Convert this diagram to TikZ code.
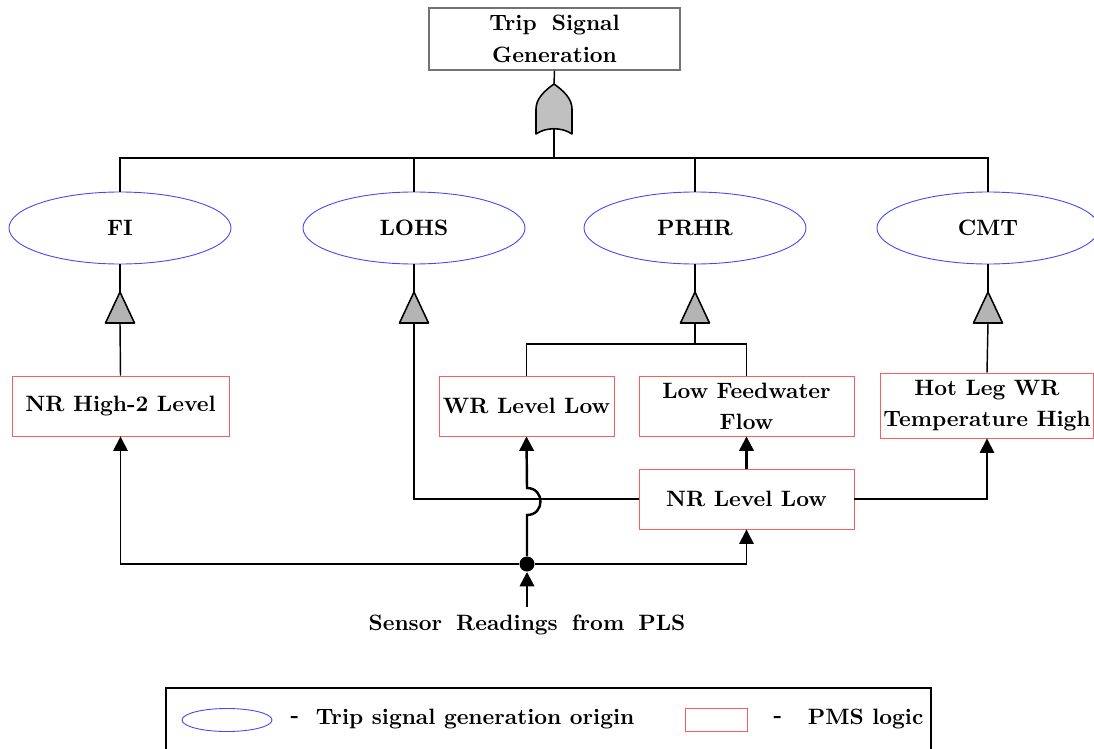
\documentclass[tikz,border=0pt]{standalone}
\usetikzlibrary{arrows.meta,shapes.geometric}
\newcommand{\unitpx}{0.45pt}
\definecolor{pmsred}{RGB}{245,95,95}
\definecolor{origblue}{RGB}{70,70,250}
\definecolor{orfill}{RGB}{192,192,192}
\definecolor{trifill}{RGB}{180,180,180}
\begin{document}
\begin{tikzpicture}[x=\unitpx,y=-\unitpx,
  lbl/.style={font=\bfseries, align=center},
  pms/.style={draw=pmsred, line width=0.4pt, inner sep=0pt, lbl},
  origin/.style={draw=origblue, ellipse, line width=0.4pt, inner sep=0pt,
    minimum width=222*\unitpx, minimum height=72*\unitpx, lbl},
  wire/.style={line width=0.65pt},
  feed/.style={line width=1.1pt},
  tip/.style={-{Triangle[width=6.5pt,length=6.5pt]}},
  gatestyle/.style={line width=0.7pt, line join=round},
  orgate/.pic={
    \draw[gatestyle, fill=orfill] (0,-25) .. controls (-10,-18) and (-18,-10) .. (-18,0)
      -- (-18,25) .. controls (-8,18) and (8,18) .. (18,25) -- (18,0)
      .. controls (18,-10) and (10,-18) .. (0,-25) -- cycle;
    \coordinate (-top) at (0,-25);
    \coordinate (-bot) at (0,20);
  },
  trigate/.pic={
    \draw[gatestyle, fill=trifill] (0,-15.5) -- (14.5,15.5) -- (-14.5,15.5) -- cycle;
    \coordinate (-top) at (0,-15.5);
    \coordinate (-bot) at (0,15.5);
  }]
\useasboundingbox (0,0) rectangle (1094,749);

% top event and OR gate
\node[draw=black!55, line width=0.5pt, inner sep=0pt, lbl,
  minimum width=251*\unitpx, minimum height=62*\unitpx] (top) at (554.5,39)
  {Trip\hspace{3pt} Signal\\[2.5pt]Generation};
\pic (org) at (554,109) {orgate};
\coordinate (bus) at (554,158);

% trip signal origins
\node[origin] (fi)   at (120,228) {FI};
\node[origin] (lohs) at (414,228) {LOHS};
\node[origin] (prhr) at (695,228) {PRHR};
\node[origin] (cmt)  at (988,228) {CMT};

\pic (gfi)   at (120,307.5) {trigate};
\pic (glohs) at (414,307.5) {trigate};
\pic (gprhr) at (695,307.5) {trigate};
\pic (gcmt)  at (988,307.5) {trigate};

% PMS logic blocks
\node[pms, minimum width=217*\unitpx, minimum height=60*\unitpx] (nrh) at (120.5,406) {NR High-2 Level};
\node[pms, minimum width=175*\unitpx, minimum height=60*\unitpx] (wrl) at (526.5,406) {WR Level Low};
\node[pms, minimum width=215*\unitpx, minimum height=60*\unitpx] (lfw) at (746.5,406) {Low Feedwater\\[2pt]Flow};
\node[pms, minimum width=213*\unitpx, minimum height=65*\unitpx] (hot) at (987,405.5) {Hot Leg WR\\[2pt]Temperature High};
\node[pms, minimum width=215*\unitpx, minimum height=60*\unitpx] (nrl) at (746.5,499) {NR Level Low};

% sensor input
\node[circle, fill=black, inner sep=0pt, minimum size=15*\unitpx] (dot) at (527,564) {};
\node[lbl] (sens) at (527,625) {Sensor\hspace{2.5pt} Readings\hspace{2.5pt} from\hspace{2.5pt} PLS};

% OR gate wiring
\draw[wire] (top.south) -- (org-top);
\draw[wire] (org-bot) -- (bus);
\draw[wire] (fi.north) -- (fi.north |- bus) -- (cmt.north |- bus) -- (cmt.north);
\draw[wire] (lohs.north) -- (lohs.north |- bus);
\draw[wire] (prhr.north) -- (prhr.north |- bus);

% gates below the origins
\draw[wire] (fi.south) -- (gfi-top);
\draw[wire] (lohs.south) -- (glohs-top);
\draw[wire] (prhr.south) -- (gprhr-top);
\draw[wire] (cmt.south) -- (gcmt-top);

\draw[wire] (gfi-bot) -- (nrh.north);
\draw[wire] (gcmt-bot) -- (hot.north);
\draw[wire] (glohs-bot) |- (nrl.west);
\coordinate (pj) at (695,344);
\draw[feed] (gprhr-bot) -- (pj);
\draw[wire] (wrl.north) |- (pj) -| (lfw.north);

% signal flow from the sensors
\draw[feed, tip] (sens.north) -- (dot.south);
\draw[wire, tip] (dot.west) -| (nrh.south);
\draw[wire, tip] (dot.east) -| (nrl.south);
\coordinate (jlo) at (527,515);
\coordinate (jhi) at (527,488);
\draw[feed, tip] (dot.north) -- (jlo) .. controls +(18,0) and +(18,0) .. (jhi) -- (wrl.south);
\draw[feed, tip] (nrl.north) -- (lfw.south);
\draw[wire, tip] (nrl.east) -| (hot.south);

% legend
\node[draw, line width=1.1pt, inner sep=0pt,
  minimum width=765*\unitpx, minimum height=80*\unitpx] (legend) at (548.5,728) {};
\node[draw=origblue, ellipse, line width=0.4pt, inner sep=0pt,
  minimum width=90*\unitpx, minimum height=23*\unitpx] (lgo) at (227,720) {};
\node[lbl] (lgd1) at (295,719) {-};
\node[lbl, anchor=west] (lgt1) at (308,719) {Trip signal generation origin};
\node[draw=pmsred, line width=0.4pt, inner sep=0pt,
  minimum width=62*\unitpx, minimum height=23*\unitpx] (lgr) at (716,720) {};
\node[lbl] (lgd2) at (778,719) {-};
\node[lbl, anchor=west] (lgt2) at (800,719) {PMS logic};
\end{tikzpicture}
\end{document}
